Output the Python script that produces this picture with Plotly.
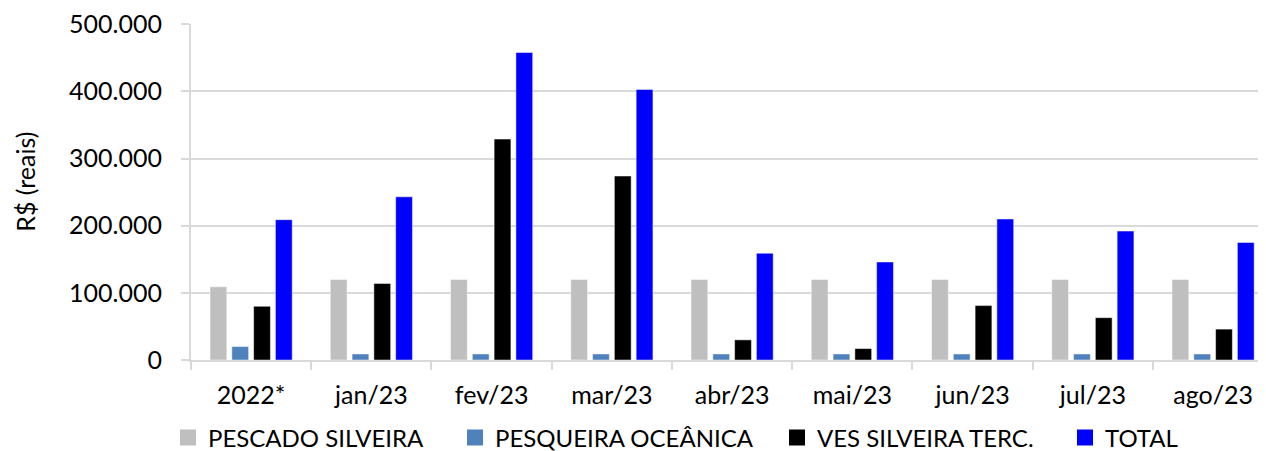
import plotly.graph_objects as go

categories = ["2022*", "jan/23", "fev/23", "mar/23", "abr/23", "mai/23", "jun/23", "jul/23", "ago/23"]
pescado_silveira = [109000, 120000, 120000, 120000, 120000, 120000, 120000, 120000, 120000]
pesqueira_oceanica = [20000, 9000, 9000, 9000, 9000, 9000, 9000, 9000, 9000]
ves_silveira_terc = [80000, 114000, 329000, 274000, 30000, 17000, 81000, 63000, 46000]
total = [209000, 243000, 458000, 403000, 159000, 146000, 210000, 192000, 175000]
y_ticks = [0, 100000, 200000, 300000, 400000, 500000]

series = [
    ("PESCADO SILVEIRA", pescado_silveira, "#BFBFBF"),
    ("PESQUEIRA OCEÂNICA", pesqueira_oceanica, "#4F81BD"),
    ("VES SILVEIRA TERC.", ves_silveira_terc, "#000000"),
    ("TOTAL", total, "#0000FF"),
]

font_family = "Lato, Open Sans, sans-serif"
W, H = 1266, 451
OFF = 8  # page body margin offset

# legend left positions (pixels in the window)
legend_px = [168, 455, 777, 1065]

fig = go.Figure()
for name, vals, color in series:
    fig.add_trace(go.Bar(
        x=categories, y=vals, name=name, showlegend=False,
        marker=dict(color=color, line=dict(color="rgba(255,255,255,0.6)", width=0.8)),
    ))

legend_layout = {}
for i, ((name, vals, color), px) in enumerate(zip(series, legend_px)):
    key = "legend" if i == 0 else f"legend{i+1}"
    fig.add_trace(go.Scatter(
        x=[None], y=[None], mode="markers", name=name, legend=key,
        marker=dict(symbol="square", size=16, color=color),
        showlegend=True,
    ))
    legend_layout[key] = dict(
        xref="container", yref="container",
        x=(px - OFF) / W, xanchor="left", y=1 - (438 - OFF) / H, yanchor="middle",
        font=dict(size=24, family=font_family), itemwidth=30,
        bgcolor="rgba(0,0,0,0)", borderwidth=0,
    )

plot_left, plot_right = 191 - OFF, 1266 - OFF
plot_top, plot_bottom = 24 - OFF, 360.5 - OFF

fig.update_layout(
    width=W, height=H,
    margin=dict(l=plot_left, r=W - plot_right, t=plot_top, b=H - plot_bottom, autoexpand=False),
    paper_bgcolor="white", plot_bgcolor="white",
    barmode="group", bargap=0.275, bargroupgap=0.23,
    separators=",.",
    font=dict(family=font_family, size=25, color="#000000"),
    showlegend=True,
    **legend_layout,
)
fig.add_annotation(
    text="R$ (reais)", textangle=-90, showarrow=False,
    xref="paper", yref="paper",
    x=(25 - OFF - plot_left) / (plot_right - plot_left),
    y=(plot_bottom - (182 - OFF)) / (plot_bottom - plot_top),
    xanchor="center", yanchor="middle",
    font=dict(size=25, family=font_family, color="#000000"),
)
fig.update_xaxes(
    range=[-0.5, 8.44], automargin=False,
    showline=True, linecolor="#D9D9D9", linewidth=2,
    ticks="outside", tickson="boundaries", ticklen=8, tickcolor="#D9D9D9", tickwidth=2,
    showgrid=False, ticklabelstandoff=12,
    tickfont=dict(size=25),
)
fig.update_yaxes(
    range=[0, 500400], tickvals=y_ticks, automargin=False,
    tickformat=",d", ticklabeloverflow="allow",
    showline=True, linecolor="#D9D9D9", linewidth=2,
    ticks="outside", ticklen=8, tickcolor="#D9D9D9", tickwidth=2,
    showgrid=True, gridcolor="#D9D9D9", gridwidth=2,
    zeroline=False, ticklabelstandoff=14,
    tickfont=dict(size=25),
)

fig.write_html("out.html")
